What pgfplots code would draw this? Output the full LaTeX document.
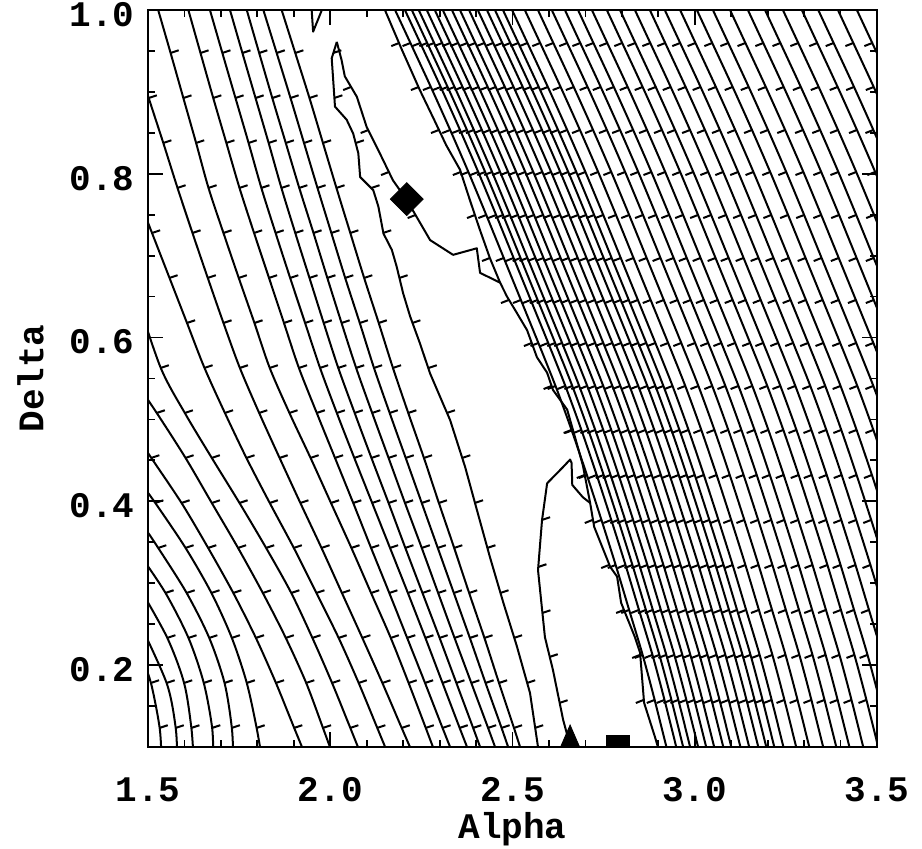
\documentclass[border=0pt]{standalone}
\usepackage{fontspec}
\setmainfont{Liberation Mono}
\usepackage{pgfplots}
\usepackage{pgfplotstable}
\pgfplotsset{compat=1.18}
% downhill tick marks: W = pointing left (and slightly down), E = pointing right (and slightly up)
\pgfdeclareplotmark{tkW}{\pgfpathmoveto{\pgfpointorigin}\pgfpathlineto{\pgfqpoint{-3.95pt}{-1.55pt}}\pgfusepathqstroke}
\pgfdeclareplotmark{tkE}{\pgfpathmoveto{\pgfpointorigin}\pgfpathlineto{\pgfqpoint{4.05pt}{1.35pt}}\pgfusepathqstroke}
\tikzset{cl/.style={black, line width=1pt, line join=round}}
% left-side contours L1..L7 (start at the top edge)
\pgfplotstableread{
Y      a1    a2    a3    a4    a5    a6    a7
1.0122 1.858 1.808 1.763 1.717 1.662 1.603 1.520
0.9475 1.904 1.853 1.805 1.759 1.704 1.644 1.562
0.8925 1.943 1.891 1.841 1.795 1.740 1.679 1.597
0.8376 1.980 1.928 1.878 1.831 1.776 1.715 1.632
0.7827 2.017 1.965 1.915 1.866 1.811 1.751 1.666
0.7277 2.055 2.003 1.954 1.904 1.850 1.791 1.707
0.6728 2.093 2.041 1.992 1.943 1.890 1.832 1.749
0.6178 2.133 2.081 2.031 1.982 1.931 1.873 1.792
0.5629 2.172 2.120 2.071 2.022 1.972 1.914 1.834
0.5079 2.214 2.163 2.115 2.067 2.018 1.963 1.888
0.4530 2.257 2.207 2.160 2.113 2.066 2.013 1.946
0.3980 2.298 2.251 2.205 2.160 2.115 2.063 2.002
0.3431 2.340 2.295 2.251 2.206 2.164 2.112 2.058
0.2881 2.381 2.339 2.296 2.253 2.213 2.162 2.112
0.2332 2.423 2.383 2.341 2.300 2.261 2.211 2.166
0.1782 2.463 2.426 2.387 2.346 2.308 2.260 2.215
0.1233 2.504 2.470 2.433 2.392 2.355 2.308 2.262
0.0843 2.532 2.500 2.465 2.424 2.389 2.343 2.295
}\Ltab
% right-side contours c2..c38
\pgfplotstableread{
Y c2 c3 c4 c5 c6 c7 c8 c9 c10 c11 c12 c13 c14 c15 c16 c17 c18 c19 c20 c21 c22 c23 c24 c25 c26 c27 c28 c29 c30 c31 c32 c33 c34 c35 c36 c37 c38
1.0122 2.165 2.192 2.211 2.230 2.252 2.274 2.296 2.321 2.343 2.368 2.392 2.417 2.439 2.461 2.486 2.521 2.557 2.595 2.631 2.667 2.705 2.746 2.782 2.823 2.864 2.905 2.947 2.993 3.037 3.084 3.133 3.180 3.229 3.281 3.326 3.380 3.432
0.9597 2.220 2.247 2.266 2.285 2.307 2.329 2.351 2.376 2.398 2.423 2.447 2.472 2.494 2.516 2.541 2.576 2.612 2.650 2.686 2.722 2.760 2.801 2.837 2.878 2.919 2.960 3.002 3.048 3.092 3.139 3.188 3.235 3.284 3.336 3.381 3.435 3.487
0.9060 2.276 2.303 2.322 2.341 2.363 2.385 2.407 2.432 2.454 2.479 2.503 2.528 2.550 2.572 2.597 2.632 2.668 2.706 2.742 2.778 2.816 2.857 2.893 2.934 2.975 3.016 3.058 3.104 3.148 3.195 3.244 3.291 3.340 3.392 3.437 3.491 3.543
0.8535 2.329 2.356 2.375 2.394 2.416 2.438 2.460 2.485 2.507 2.532 2.556 2.581 2.603 2.625 2.650 2.685 2.721 2.759 2.795 2.831 2.869 2.910 2.946 2.987 3.028 3.069 3.111 3.157 3.201 3.248 3.297 3.344 3.393 3.445 3.490 3.544 3.596
0.8022 2.379 2.406 2.425 2.444 2.466 2.488 2.510 2.535 2.557 2.582 2.606 2.631 2.653 2.675 2.700 2.735 2.771 2.809 2.845 2.881 2.919 2.960 2.996 3.037 3.078 3.119 3.161 3.207 3.251 3.298 3.347 3.394 3.443 3.495 3.540 3.594 3.646
0.7497 2.428 2.455 2.474 2.493 2.515 2.537 2.559 2.584 2.606 2.631 2.655 2.680 2.702 2.724 2.749 2.784 2.820 2.858 2.894 2.930 2.968 3.009 3.045 3.086 3.127 3.168 3.210 3.256 3.300 3.347 3.396 3.443 3.492 3.544 3.589 3.643 3.695
0.6972 2.476 2.503 2.522 2.541 2.563 2.585 2.607 2.632 2.654 2.679 2.703 2.728 2.750 2.772 2.797 2.832 2.868 2.906 2.942 2.978 3.016 3.057 3.093 3.134 3.175 3.216 3.258 3.304 3.348 3.395 3.444 3.491 3.540 3.592 3.637 3.691 3.743
0.6459 2.523 2.550 2.569 2.588 2.610 2.632 2.654 2.679 2.701 2.726 2.750 2.775 2.797 2.819 2.844 2.879 2.915 2.953 2.989 3.025 3.063 3.104 3.140 3.181 3.222 3.263 3.305 3.351 3.395 3.442 3.491 3.538 3.587 3.639 3.684 3.738 3.790
0.5934 2.571 2.598 2.617 2.636 2.658 2.680 2.702 2.727 2.749 2.774 2.798 2.823 2.845 2.867 2.892 2.927 2.963 3.001 3.037 3.073 3.111 3.152 3.188 3.229 3.270 3.311 3.353 3.399 3.443 3.490 3.539 3.586 3.635 3.687 3.732 3.786 3.838
0.5409 2.618 2.645 2.664 2.683 2.705 2.727 2.749 2.774 2.796 2.821 2.845 2.870 2.892 2.914 2.939 2.974 3.010 3.048 3.084 3.120 3.158 3.199 3.235 3.276 3.317 3.358 3.400 3.446 3.490 3.537 3.586 3.633 3.682 3.734 3.779 3.833 3.885
0.4872 2.662 2.689 2.708 2.727 2.749 2.771 2.793 2.818 2.840 2.865 2.889 2.914 2.936 2.958 2.983 3.018 3.054 3.092 3.128 3.164 3.202 3.243 3.279 3.320 3.361 3.402 3.444 3.490 3.534 3.581 3.630 3.677 3.726 3.778 3.823 3.877 3.929
0.4322 2.704 2.731 2.750 2.769 2.791 2.813 2.835 2.860 2.882 2.907 2.931 2.956 2.978 3.000 3.025 3.060 3.096 3.134 3.170 3.206 3.244 3.285 3.321 3.362 3.403 3.444 3.486 3.532 3.576 3.623 3.672 3.719 3.768 3.820 3.865 3.919 3.971
0.3773 2.744 2.771 2.790 2.809 2.831 2.853 2.875 2.900 2.922 2.947 2.971 2.996 3.018 3.040 3.065 3.100 3.136 3.174 3.210 3.246 3.284 3.325 3.361 3.402 3.443 3.484 3.526 3.572 3.616 3.663 3.712 3.759 3.808 3.860 3.905 3.959 4.011
0.3223 2.783 2.810 2.829 2.848 2.870 2.892 2.914 2.939 2.961 2.986 3.010 3.035 3.057 3.079 3.104 3.139 3.175 3.213 3.249 3.285 3.323 3.364 3.400 3.441 3.482 3.523 3.565 3.611 3.655 3.702 3.751 3.798 3.847 3.899 3.944 3.998 4.050
0.2674 2.820 2.847 2.866 2.885 2.907 2.929 2.951 2.976 2.998 3.023 3.047 3.072 3.094 3.116 3.141 3.176 3.212 3.250 3.286 3.322 3.360 3.401 3.437 3.478 3.519 3.560 3.602 3.648 3.692 3.739 3.788 3.835 3.884 3.936 3.981 4.035 4.087
0.2125 2.857 2.884 2.903 2.922 2.944 2.966 2.988 3.013 3.035 3.060 3.084 3.109 3.131 3.153 3.178 3.213 3.249 3.287 3.323 3.359 3.397 3.438 3.474 3.515 3.556 3.597 3.639 3.685 3.729 3.776 3.825 3.872 3.921 3.973 4.018 4.072 4.124
0.1575 2.890 2.917 2.936 2.955 2.977 2.999 3.021 3.046 3.068 3.093 3.117 3.142 3.164 3.186 3.211 3.246 3.282 3.320 3.356 3.392 3.430 3.471 3.507 3.548 3.589 3.630 3.672 3.718 3.762 3.809 3.858 3.905 3.954 4.006 4.051 4.105 4.157
0.0843 2.931 2.958 2.977 2.996 3.018 3.040 3.062 3.087 3.109 3.134 3.158 3.183 3.205 3.227 3.252 3.287 3.323 3.361 3.397 3.433 3.471 3.512 3.548 3.589 3.630 3.671 3.713 3.759 3.803 3.850 3.899 3.946 3.995 4.047 4.092 4.146 4.198
}\Rtab
\begin{document}
\begin{tikzpicture}
\begin{axis}[
  at={(74pt,51pt)}, anchor=south west,
  scale only axis, width=364.5pt, height=368.5pt,
  xmin=1.5, xmax=3.5, ymin=0.1, ymax=1.0,
  xtick={1.5,2.0,2.5,3.0,3.5}, xticklabels={1.5,2.0,2.5,3.0,3.5},
  ytick={0.2,0.4,0.6,0.8,1.0}, yticklabels={0.2,0.4,0.6,0.8,1.0},
  minor xtick={1.6,1.7,1.8,1.9,2.1,2.2,2.3,2.4,2.6,2.7,2.8,2.9,3.1,3.2,3.3,3.4},
  minor ytick={0.15,0.25,0.3,0.35,0.45,0.5,0.55,0.65,0.7,0.75,0.85,0.9,0.95},
  tick align=inside,
  major tick length=7.5pt, minor tick length=3.5pt,
  every tick/.style={black, line width=0.9pt},
  axis line style={black, line width=1pt},
  tick label style={font=\fontsize{18}{20}\selectfont\bfseries},
  xticklabel style={anchor=north, inner sep=0pt, yshift=-15pt},
  yticklabel style={anchor=east, inner sep=0pt, xshift=-6.5pt, yshift=-2.25pt},
  xlabel={Alpha}, ylabel={Delta},
  label style={font=\fontsize{18}{20}\selectfont\bfseries},
  xlabel style={at={(axis description cs:0.5,-0.1248)}, anchor=base},
  ylabel style={at={(axis description cs:-0.1436,0.5)}, anchor=base},
  clip marker paths=true,
  every axis plot/.append style={mark options={solid, line width=1pt}},
]
% ---- left region contours, ticks pointing toward the valley
\addplot[cl, smooth, mark=tkE] table[x=a1, y=Y] {\Ltab};
\addplot[cl, smooth, mark=tkE] table[x=a2, y=Y] {\Ltab};
\addplot[cl, smooth, mark=tkE] table[x=a3, y=Y] {\Ltab};
\addplot[cl, smooth, mark=tkE] table[x=a4, y=Y] {\Ltab};
\addplot[cl, smooth, mark=tkE] table[x=a5, y=Y] {\Ltab};
\addplot[cl, smooth, mark=tkE] table[x=a6, y=Y] {\Ltab};
\addplot[cl, smooth, mark=tkE] table[x=a7, y=Y] {\Ltab};
\addplot[cl, smooth, mark=tkE] coordinates {(1.470,0.9390) (1.502,0.8925) (1.542,0.8376) (1.581,0.7827) (1.622,0.7277) (1.664,0.6728) (1.707,0.6178) (1.752,0.5629) (1.805,0.5079) (1.861,0.4530) (1.918,0.3980) (1.976,0.3431) (2.032,0.2881) (2.088,0.2332) (2.143,0.1782) (2.196,0.1233) (2.234,0.0843)};
\addplot[cl, smooth, mark=tkE] coordinates {(1.465,0.7802) (1.511,0.7277) (1.559,0.6728) (1.607,0.6178) (1.655,0.5629) (1.711,0.5079) (1.770,0.4530) (1.834,0.3980) (1.900,0.3431) (1.962,0.2881) (2.023,0.2332) (2.078,0.1782) (2.129,0.1233) (2.165,0.0843)};
\addplot[cl, smooth, mark=tkE] coordinates {(1.467,0.6520) (1.535,0.5629) (1.601,0.5079) (1.675,0.4530) (1.751,0.3980) (1.824,0.3431) (1.893,0.2881) (1.951,0.2332) (2.005,0.1782) (2.055,0.1233) (2.090,0.0843)};
\addplot[cl, smooth, mark=tkE] coordinates {(1.472,0.5421) (1.524,0.5079) (1.603,0.4530) (1.675,0.3980) (1.747,0.3431) (1.815,0.2881) (1.878,0.2332) (1.934,0.1782) (1.980,0.1233) (2.012,0.0843)};
\addplot[cl, smooth, mark=tkE] coordinates {(1.476,0.4750) (1.509,0.4530) (1.592,0.3980) (1.665,0.3431) (1.734,0.2881) (1.796,0.2332) (1.851,0.1782) (1.901,0.1233) (1.937,0.0843)};
\addplot[cl, smooth, mark=tkE] coordinates {(1.478,0.4237) (1.520,0.3980) (1.603,0.3431) (1.674,0.2881) (1.730,0.2332) (1.771,0.1782) (1.798,0.1233) (1.813,0.0843)};
\addplot[cl, smooth, mark=tkE] coordinates {(1.480,0.3749) (1.528,0.3431) (1.606,0.2881) (1.668,0.2332) (1.710,0.1782) (1.730,0.1233) (1.734,0.0843)};
\addplot[cl, smooth, mark=tkE] coordinates {(1.478,0.3346) (1.548,0.2881) (1.611,0.2332) (1.653,0.1782) (1.676,0.1233) (1.679,0.0843)};
\addplot[cl, smooth, mark=tkE] coordinates {(1.480,0.2918) (1.553,0.2332) (1.599,0.1782) (1.619,0.1233) (1.625,0.0843)};
\addplot[cl, smooth, mark=tkE] coordinates {(1.473,0.2552) (1.551,0.1782) (1.576,0.1233) (1.580,0.0843)};
\addplot[cl, smooth, mark=tkE] coordinates {(1.476,0.2186) (1.508,0.1782) (1.532,0.1233) (1.537,0.0843)};
% ---- small dip at the top edge
\addplot[cl] coordinates {(1.949,1.0) (1.953,0.9735) (1.977,1.0)};
% ---- valley: left boundary, loop right side, right boundary, tongue
\addplot[cl] coordinates {(2.018,0.961) (2.004,0.941) (2.008,0.915) (2.013,0.882) (2.045,0.866) (2.063,0.849) (2.077,0.825) (2.082,0.796) (2.118,0.780) (2.132,0.760) (2.146,0.727) (2.169,0.707) (2.182,0.687) (2.200,0.654) (2.219,0.626) (2.246,0.593) (2.274,0.556) (2.329,0.499) (2.370,0.442) (2.402,0.390) (2.438,0.332) (2.475,0.276) (2.512,0.223) (2.548,0.166) (2.570,0.100)};
\addplot[only marks, mark=tkE] coordinates {(2.008,0.9475) (2.011,0.8925) (2.070,0.8376) (2.113,0.7827) (2.145,0.7277) (2.190,0.6728) (2.225,0.6178) (2.270,0.5629) (2.320,0.5079) (2.362,0.4530) (2.397,0.3980) (2.431,0.3431) (2.467,0.2881) (2.504,0.2332) (2.540,0.1782) (2.562,0.1233)};
\addplot[cl] coordinates {(2.018,0.961) (2.031,0.939) (2.040,0.919) (2.073,0.894) (2.100,0.857) (2.136,0.825) (2.172,0.792) (2.210,0.768) (2.274,0.719) (2.337,0.701) (2.402,0.709) (2.411,0.679) (2.466,0.667)};
\addplot[only marks, mark=tkW] coordinates {(2.057,0.9060) (2.105,0.8535) (2.161,0.8022) (2.234,0.7497)};
\addplot[cl] coordinates {(2.150,1.000) (2.197,0.951) (2.246,0.902) (2.285,0.866) (2.318,0.835) (2.356,0.805) (2.383,0.768) (2.411,0.731) (2.438,0.697) (2.466,0.667) (2.485,0.650) (2.512,0.630) (2.540,0.609) (2.567,0.576) (2.595,0.557) (2.611,0.536) (2.650,0.512) (2.666,0.487) (2.693,0.444) (2.713,0.398) (2.724,0.369) (2.768,0.320) (2.787,0.308) (2.798,0.276) (2.836,0.234) (2.850,0.215) (2.861,0.154) (2.891,0.112) (2.899,0.100)};
\addplot[only marks, mark=tkW] coordinates {(2.189,0.9597) (2.243,0.9060) (2.298,0.8535) (2.358,0.8022) (2.397,0.7497) (2.438,0.6972) (2.490,0.6459) (2.553,0.5934) (2.607,0.5409) (2.666,0.4872) (2.698,0.4322) (2.720,0.3773) (2.765,0.3223) (2.806,0.2674) (2.850,0.2125) (2.860,0.1575)};
\addplot[cl] coordinates {(2.713,0.398) (2.693,0.405) (2.664,0.420) (2.662,0.447) (2.658,0.451) (2.639,0.442) (2.595,0.422) (2.581,0.377) (2.570,0.316) (2.589,0.234) (2.611,0.194) (2.639,0.133) (2.650,0.115) (2.658,0.100)};
\addplot[only marks, mark=tkE] coordinates {(2.581,0.3773) (2.571,0.3199) (2.582,0.2637) (2.602,0.2100) (2.629,0.1538)};
% ---- right region contours, ticks pointing toward the valley
\addplot[cl, smooth, mark=tkW] table[x=c2, y=Y] {\Rtab};
\addplot[cl, smooth, mark=tkW] table[x=c3, y=Y] {\Rtab};
\addplot[cl, smooth, mark=tkW] table[x=c4, y=Y] {\Rtab};
\addplot[cl, smooth, mark=tkW] table[x=c5, y=Y] {\Rtab};
\addplot[cl, smooth, mark=tkW] table[x=c6, y=Y] {\Rtab};
\addplot[cl, smooth, mark=tkW] table[x=c7, y=Y] {\Rtab};
\addplot[cl, smooth, mark=tkW] table[x=c8, y=Y] {\Rtab};
\addplot[cl, smooth, mark=tkW] table[x=c9, y=Y] {\Rtab};
\addplot[cl, smooth, mark=tkW] table[x=c10, y=Y] {\Rtab};
\addplot[cl, smooth, mark=tkW] table[x=c11, y=Y] {\Rtab};
\addplot[cl, smooth, mark=tkW] table[x=c12, y=Y] {\Rtab};
\addplot[cl, smooth, mark=tkW] table[x=c13, y=Y] {\Rtab};
\addplot[cl, smooth, mark=tkW] table[x=c14, y=Y] {\Rtab};
\addplot[cl, smooth, mark=tkW] table[x=c15, y=Y] {\Rtab};
\addplot[cl, smooth, mark=tkW] table[x=c16, y=Y] {\Rtab};
\addplot[cl, smooth, mark=tkW] table[x=c17, y=Y] {\Rtab};
\addplot[cl, smooth, mark=tkW] table[x=c18, y=Y] {\Rtab};
\addplot[cl, smooth, mark=tkW] table[x=c19, y=Y] {\Rtab};
\addplot[cl, smooth, mark=tkW] table[x=c20, y=Y] {\Rtab};
\addplot[cl, smooth, mark=tkW] table[x=c21, y=Y] {\Rtab};
\addplot[cl, smooth, mark=tkW] table[x=c22, y=Y] {\Rtab};
\addplot[cl, smooth, mark=tkW] table[x=c23, y=Y] {\Rtab};
\addplot[cl, smooth, mark=tkW] table[x=c24, y=Y] {\Rtab};
\addplot[cl, smooth, mark=tkW] table[x=c25, y=Y] {\Rtab};
\addplot[cl, smooth, mark=tkW] table[x=c26, y=Y] {\Rtab};
\addplot[cl, smooth, mark=tkW] table[x=c27, y=Y] {\Rtab};
\addplot[cl, smooth, mark=tkW] table[x=c28, y=Y] {\Rtab};
\addplot[cl, smooth, mark=tkW] table[x=c29, y=Y] {\Rtab};
\addplot[cl, smooth, mark=tkW] table[x=c30, y=Y] {\Rtab};
\addplot[cl, smooth, mark=tkW] table[x=c31, y=Y] {\Rtab};
\addplot[cl, smooth, mark=tkW] table[x=c32, y=Y] {\Rtab};
\addplot[cl, smooth, mark=tkW] table[x=c33, y=Y] {\Rtab};
\addplot[cl, smooth, mark=tkW] table[x=c34, y=Y] {\Rtab};
\addplot[cl, smooth, mark=tkW] table[x=c35, y=Y] {\Rtab};
\addplot[cl, smooth, mark=tkW] table[x=c36, y=Y] {\Rtab};
\addplot[cl, smooth, mark=tkW] table[x=c37, y=Y] {\Rtab};
\addplot[cl, smooth, mark=tkW] table[x=c38, y=Y] {\Rtab};
% ---- markers
\addplot[only marks, mark=square*, mark size=5.8pt, mark options={rotate=45, fill=black, draw=black}] coordinates {(2.210,0.769)};
\addplot[only marks, mark=triangle*, mark size=11pt, mark options={xscale=0.75, fill=black, draw=black}] coordinates {(2.658,0.100)};
\addplot[only marks, mark=square*, mark size=5.75pt, mark options={fill=black, draw=black}] coordinates {(2.790,0.100)};
\end{axis}
\pgfresetboundingbox
\path[use as bounding box] (0,0) rectangle (461pt,424.5pt);
\end{tikzpicture}
\end{document}
